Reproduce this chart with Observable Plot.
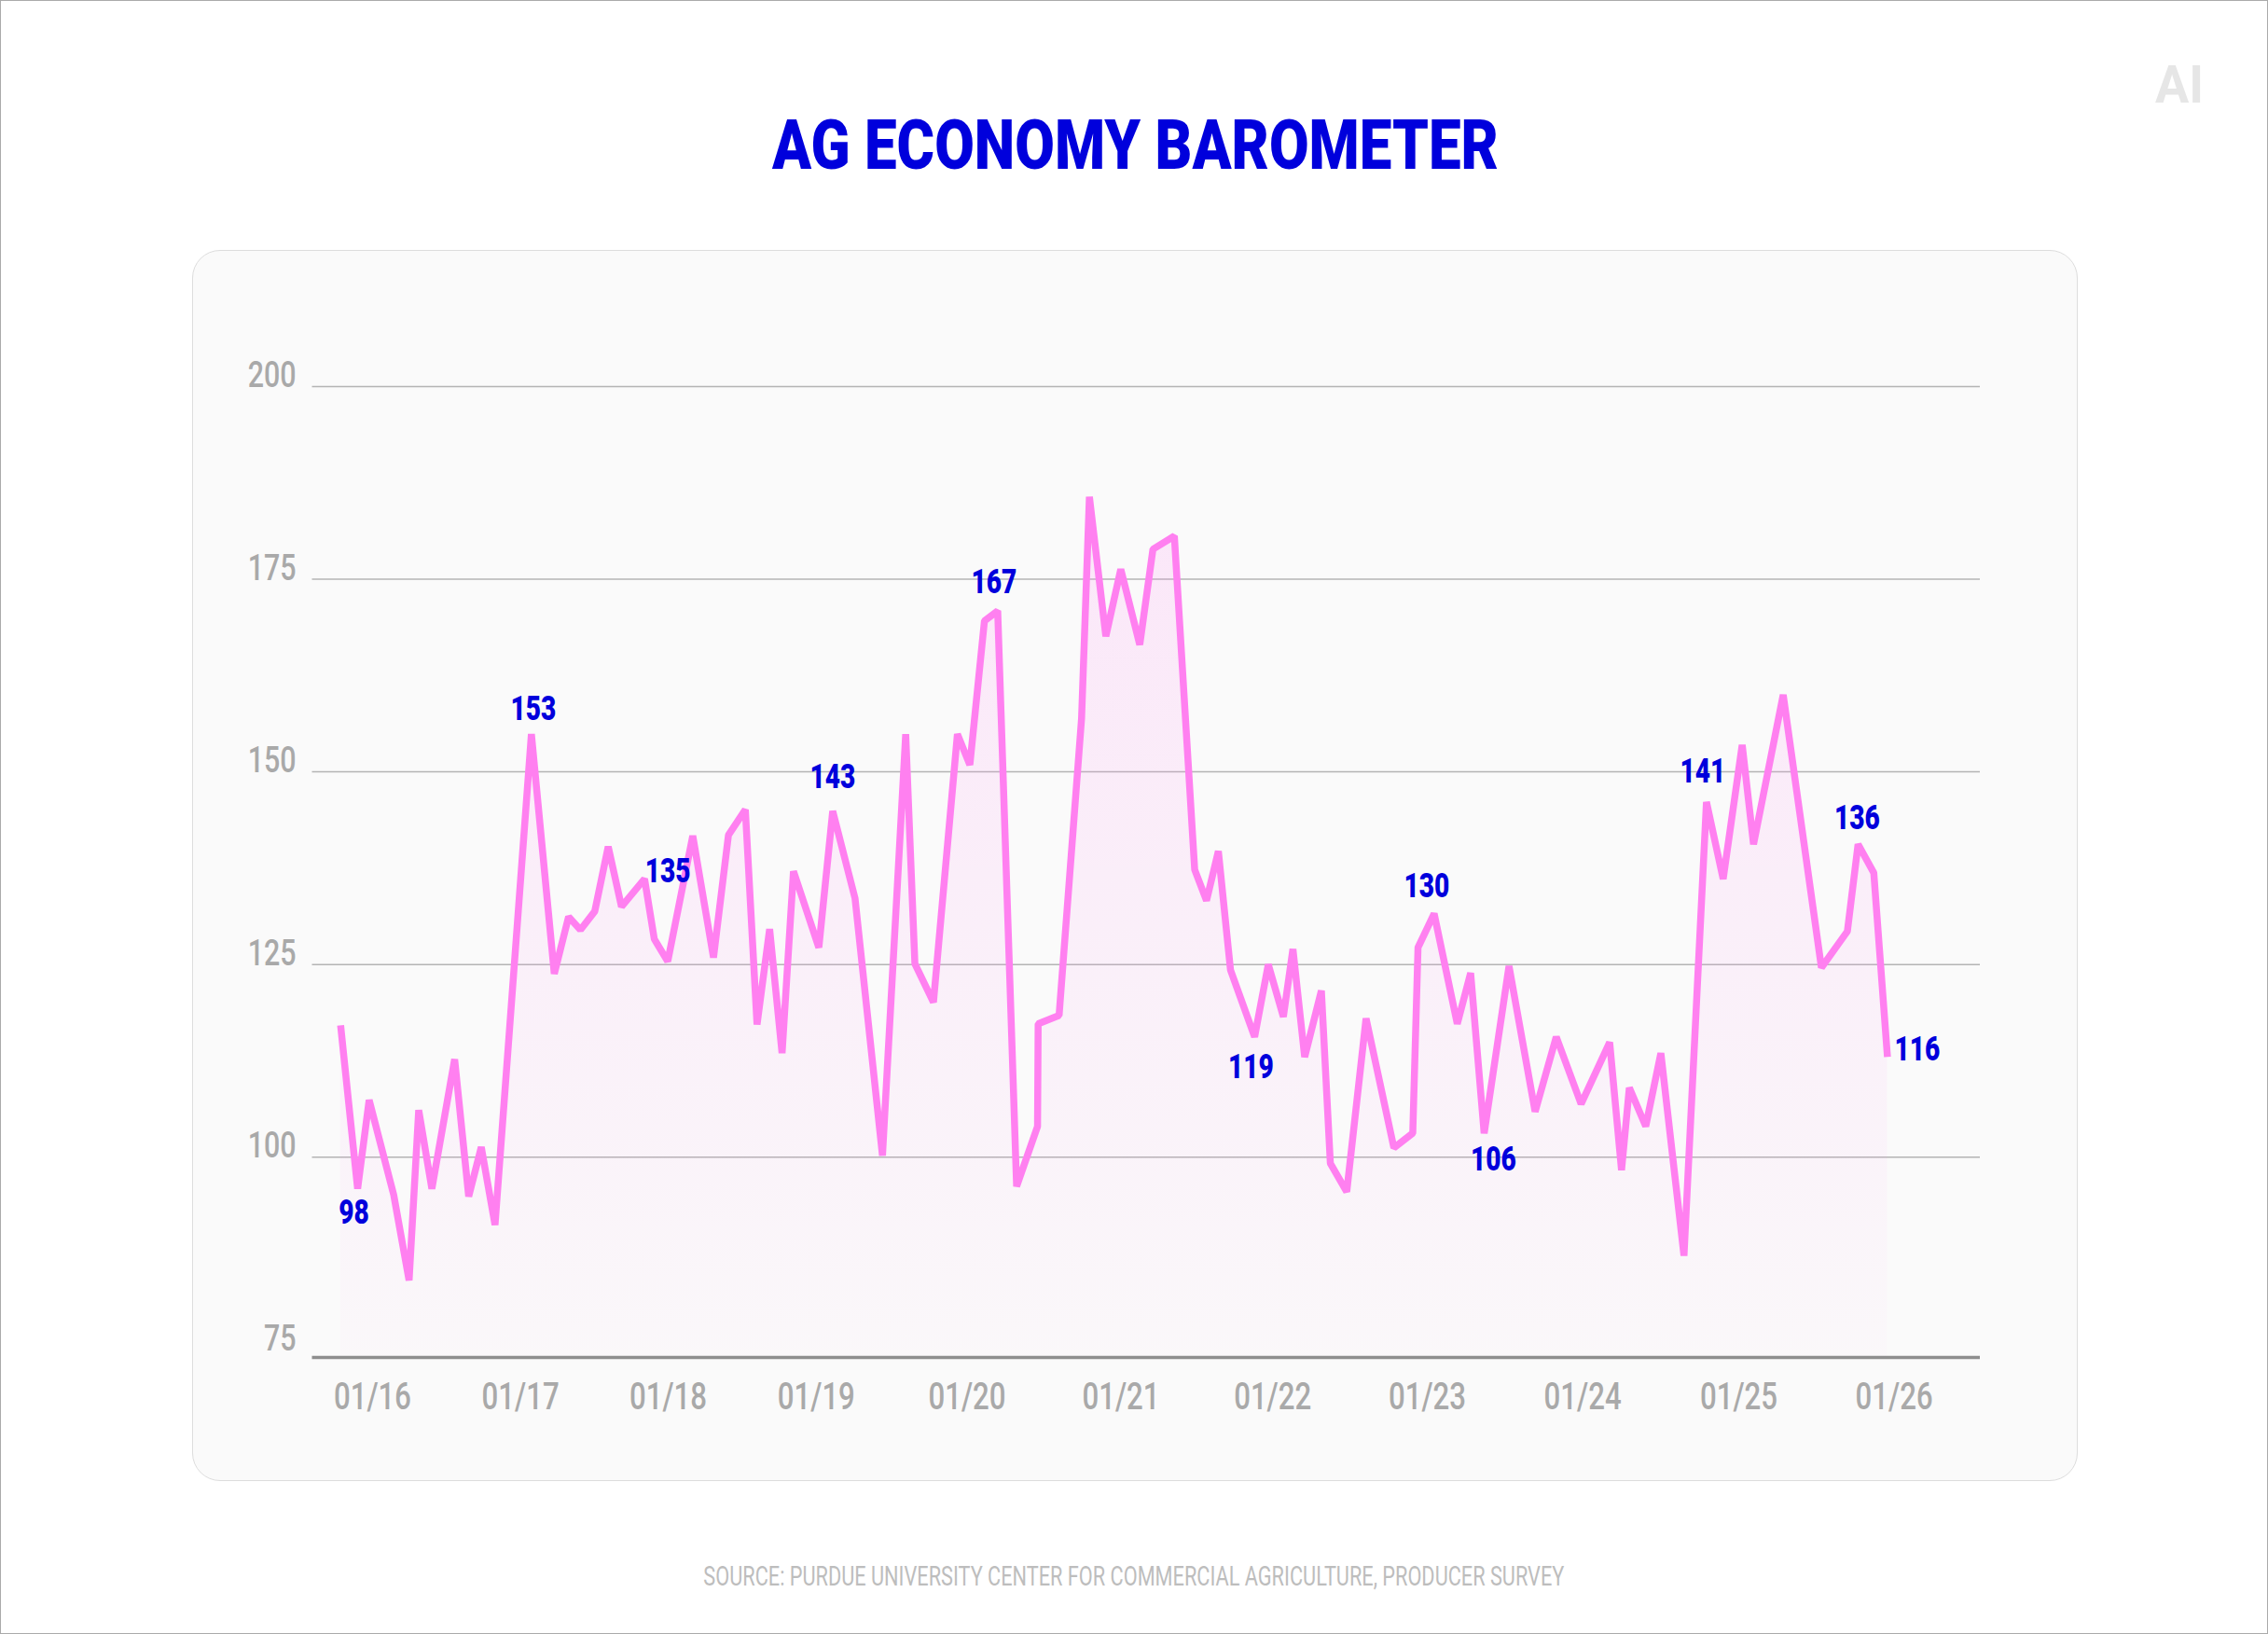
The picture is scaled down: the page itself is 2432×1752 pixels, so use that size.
<!DOCTYPE html>
<html>
<head>
<meta charset="utf-8">
<script src="https://cdn.jsdelivr.net/npm/d3@7"></script>
<script src="https://cdn.jsdelivr.net/npm/@observablehq/plot@0.6"></script>
<style>
  html, body { margin: 0; padding: 0; background: #fff; }
  #page {
    position: relative; width: 2432px; height: 1752px; box-sizing: border-box;
    border: 1px solid #aaaaaa; background: #fff; overflow: hidden;
    font-family: Roboto, "Noto Sans", sans-serif;
  }
  .squeeze { position: absolute; white-space: nowrap; line-height: 1; transform-origin: 50% 50%; }
  #title { font-size: 75px; font-weight: 900; color: #0000dc; }
  #logo { font-size: 56px; font-weight: 700; color: #e6e6e6; }
  #caption { font-size: 29.5px; color: #bdbdbd; }
  #card {
    position: absolute; left: 205px; top: 267px; width: 2022px; height: 1320px;
    box-sizing: border-box; border: 1.5px solid #dddddd; border-radius: 30px; background: #fafafa;
  }
  #chart { position: absolute; left: 205px; top: 267px; }
</style>
</head>
<body>
<div id="page">
  <div id="card"></div>
  <div id="chart"></div>
  <span id="title" class="squeeze">AG ECONOMY BAROMETER</span>
  <span id="logo" class="squeeze">AI</span>
  <span id="caption" class="squeeze">SOURCE: PURDUE UNIVERSITY CENTER FOR COMMERCIAL AGRICULTURE, PRODUCER SURVEY</span>
</div>
<script>
// ---- Data (decimal year, index value) ----
const dates = [
  2015.784, 2015.899, 2015.977, 2016.143, 2016.247, 2016.312, 2016.401, 2016.555, 2016.650, 2016.735,
  2016.828, 2017.074, 2017.229, 2017.326, 2017.406, 2017.503, 2017.594, 2017.684, 2017.840, 2017.906,
  2017.997, 2018.166, 2018.306, 2018.407, 2018.521, 2018.600, 2018.685, 2018.769, 2018.846, 2019.017,
  2019.109, 2019.257, 2019.439, 2019.593, 2019.654, 2019.777, 2019.936, 2020.018, 2020.113, 2020.199,
  2020.322, 2020.458, 2020.462, 2020.598, 2020.744, 2020.795, 2020.902, 2020.999, 2021.124, 2021.211,
  2021.352, 2021.486, 2021.564, 2021.642, 2021.722, 2021.881, 2021.971, 2022.069, 2022.131, 2022.207,
  2022.315, 2022.373, 2022.479, 2022.604, 2022.784, 2022.906, 2022.940, 2023.044, 2023.193, 2023.279,
  2023.366, 2023.526, 2023.694, 2023.830, 2023.990, 2024.173, 2024.249, 2024.299, 2024.404, 2024.501,
  2024.649, 2024.793, 2024.900, 2025.022, 2025.095, 2025.286, 2025.532, 2025.699, 2025.768, 2025.869,
  2025.957
];
const values = [
  117.1, 95.9, 107.4, 95.1, 84.0, 106.1, 95.9, 112.7, 94.9, 101.3,
  91.2, 154.9, 123.8, 131.2, 129.5, 131.9, 140.3, 132.5, 136.1, 128.3,
  125.4, 141.7, 125.9, 141.8, 145.1, 117.2, 129.6, 113.5, 137.1, 127.2,
  144.9, 133.6, 100.2, 154.9, 125.1, 120.1, 154.9, 150.9, 169.6, 170.9,
  96.2, 104.0, 117.3, 118.4, 156.9, 185.7, 167.6, 176.3, 166.5, 178.9,
  180.6, 137.3, 133.3, 139.7, 124.3, 115.6, 125.0, 118.2, 127.0, 113.0,
  121.6, 99.2, 95.5, 118.0, 101.2, 103.1, 127.2, 131.6, 117.3, 123.9,
  103.1, 124.8, 105.9, 115.6, 106.9, 114.9, 98.3, 109.0, 104.0, 113.5,
  87.2, 146.1, 136.1, 153.5, 140.6, 160.0, 124.6, 129.3, 140.6, 136.9,
  113.0
];
// annotated points: index into the series, and the printed label
const labelIndex = [1, 11, 18, 30, 39, 55, 67, 70, 81, 88, 90];
const labelText  = ["98", "153", "135", "143", "167", "119", "130", "106", "141", "136", "116"];

const xTickYears = [2016, 2017, 2018, 2019, 2020, 2021, 2022, 2023, 2024, 2025, 2026];
const yTicks = [75, 100, 125, 150, 175, 200];
const yGrid = [100, 125, 150, 175, 200];

// ---- Layout / style ----
const PINK = "#ff80f0";
const BLUE = "#0000dc";
const FONT = 'Roboto, "Noto Sans", sans-serif';
const W = 2022, H = 1320;
const yMin = 74, yMax = 200;
// measured pixel positions of the year ticks inside the chart svg (piecewise x scale)
const xTickPx = [193, 351.6, 510, 668.8, 830.5, 995.5, 1158.2, 1324, 1490.6, 1658, 1824.6];
// label placement offsets (dx, dy) relative to the annotated point
const labelOffsets = [[-4, 26], [2, -27], [25, -8], [0, -36], [-4, -30], [-4, 33], [-8, -29], [10, 28], [-4, -32], [-1, -28], [32, -8]];
const SQUEEZE = 0.78; // horizontal condensation of svg text (condensed typeface look)

const data = dates.map((t, i) => ({t, v: values[i]}));
const labels = labelIndex.map((idx, k) => ({t: dates[idx], v: values[idx], text: labelText[k], dx: labelOffsets[k][0], dy: labelOffsets[k][1]}));

const chart = Plot.plot({
  width: W, height: H,
  marginLeft: 128.5, marginRight: 105, marginTop: 146, marginBottom: 133,
  style: {background: "transparent", fontFamily: FONT, color: "#a9a9a9", overflow: "visible"},
  x: {type: "linear", domain: xTickYears, range: xTickPx, label: null},
  y: {domain: [yMin, yMax], label: null},
  marks: [
    Plot.ruleY(yGrid, {stroke: "#b4b4b4", strokeWidth: 1.5}),
    Plot.areaY(data, {x: "t", y1: yMin, y2: "v", fill: "url(#areaGrad)", curve: "linear"}),
    Plot.line(data, {x: "t", y: "v", stroke: PINK, strokeWidth: 7.5, strokeLinejoin: "miter", strokeLinecap: "butt", curve: "linear"}),
    Plot.ruleY([yMin], {stroke: "#8e8e8e", strokeWidth: 3.5}),
    Plot.axisY({ticks: yTicks, tickSize: 0, tickPadding: 17.5, dy: -12, fontSize: 39, fontWeight: 500, fill: "#a9a9a9", label: null}),
    Plot.axisX({ticks: xTickYears, tickFormat: d => "01/" + String(d).slice(2), tickSize: 0, tickPadding: 27, fontSize: 40, fontWeight: 500, fill: "#a9a9a9", label: null}),
    ...labels.map(l => Plot.text([l], {x: "t", y: "v", text: "text", dx: l.dx, dy: l.dy, fill: BLUE, fontSize: 36, fontWeight: 900, lineAnchor: "middle", textAnchor: "middle"}))
  ]
});

const defs = d3.select(chart).insert("defs", ":first-child");
const grad = defs.append("linearGradient").attr("id", "areaGrad").attr("x1", 0).attr("y1", 0).attr("x2", 0).attr("y2", 1);
grad.append("stop").attr("offset", "0%").attr("stop-color", PINK).attr("stop-opacity", 0.16);
grad.append("stop").attr("offset", "100%").attr("stop-color", PINK).attr("stop-opacity", 0.02);

document.getElementById("chart").appendChild(chart);

// condense svg text horizontally
chart.querySelectorAll("text").forEach(el => {
  const len = el.getComputedTextLength();
  if (len > 0) {
    el.setAttribute("textLength", (len * SQUEEZE).toFixed(2));
    el.setAttribute("lengthAdjust", "spacingAndGlyphs");
  }
});

// place html texts: centre (cx, cy) and target width
function place(id, cx, cy, targetWidth) {
  const el = document.getElementById(id);
  const r = el.getBoundingClientRect();
  el.style.left = (cx - r.width / 2) + "px";
  el.style.top = (cy - r.height / 2) + "px";
  el.style.transform = `scaleX(${targetWidth / r.width})`;
}
place("title", 1216, 154, 779);
place("logo", 2336, 90, 52);
place("caption", 1215, 1690, 923);
</script>
</body>
</html>
